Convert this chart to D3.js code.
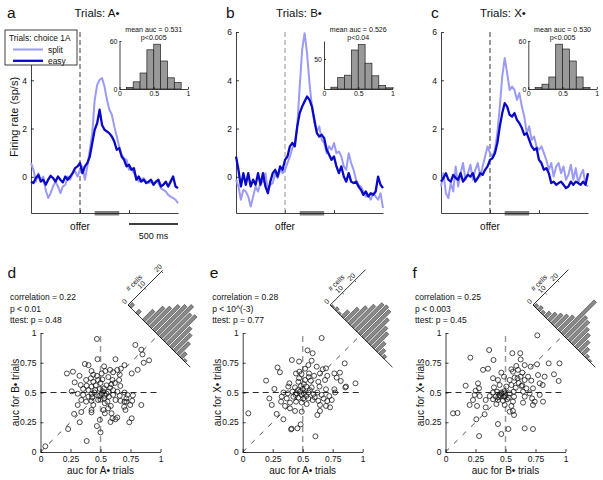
<!DOCTYPE html>
<html><head><meta charset="utf-8">
<script src="https://cdn.jsdelivr.net/npm/d3@7"></script>
<style>
body{margin:0;background:#fff}
svg{display:block}
text{font-family:"Liberation Sans",Arial,Helvetica,sans-serif;fill:#111}
</style></head>
<body><svg id="c" width="603" height="480"></svg>
<script>
// ---------------- DATA ----------------
const times = [-500,-475,-450,-425,-400,-375,-350,-325,-300,-275,-250,-225,-200,-175,-150,-125,-100,-75,-50,-25,0,25,50,75,100,125,150,175,200,225,250,275,300,325,350,375,400,425,450,475,500,525,550,575,600,625,650,675,700,725,750,775,800,825,850,875,900,925,950,975,1000];
const easyA = [-0.2,-0.26,-0.05,0.08,-0.2,-0.12,-0.33,-0.12,0.04,-0.05,-0.2,0.01,-0.12,-0.23,0.01,-0.12,0.01,0.15,0.36,0.43,0.57,0.15,0.43,0.57,0.84,1.4,1.95,2.22,2.78,2.15,1.95,1.88,1.8,1.67,1.46,1.12,1.19,0.84,0.7,0.43,0.5,0.29,0.36,-0.12,0.01,-0.2,-0.12,-0.26,-0.2,-0.12,-0.33,-0.2,-0.12,-0.4,-0.33,-0.2,-0.4,-0.2,0.01,-0.4,-0.47];
const splitA = [0.57,0.29,-0.2,0.15,-0.12,0.01,-0.54,-0.88,-0.68,-0.4,-0.2,-0.4,-0.68,-0.4,-0.33,0.01,-0.12,0.15,0.22,0.01,0.29,0.43,-0.12,0.43,1.12,1.81,3.19,3.81,4.02,4.09,3.74,3.19,2.78,2.57,2.09,1.67,1.26,0.91,0.77,0.7,0.29,0.36,0.15,0.01,-0.2,-0.12,-0.05,-0.2,-0.26,-0.2,-0.33,-0.2,-0.26,-0.47,-0.54,-0.61,-0.75,-0.82,-0.88,-0.95,-1.09];
const easyB = [0.84,0.29,-0.4,0.15,-0.33,0.15,-0.4,-0.12,-0.33,0.15,-0.33,0.15,-0.4,-0.68,-0.2,0.15,0.29,0.01,0.43,0.29,0.7,0.84,1.26,1.4,1.26,2.09,2.64,2.91,3.12,3.33,3.19,2.91,2.36,1.81,1.67,1.74,1.6,1.12,0.91,0.7,0.84,0.43,0.15,0.43,0.01,-0.2,0.15,-0.2,-0.26,-0.2,-0.4,-0.54,-0.75,-0.61,-0.82,-0.68,-0.75,-0.61,0.01,-0.33,-0.47];
const splitB = [-0.12,-0.4,-0.95,-0.54,-0.61,-0.82,-1.23,-0.82,-0.4,-0.61,-0.26,-0.2,0.15,-0.54,-0.33,-0.26,0.15,-0.05,0.29,0.15,0.29,0.57,0.84,1.19,1.4,2.09,3.74,5.26,5.95,5.12,3.88,2.91,2.22,1.88,2.09,1.53,1.4,0.98,1.26,1.12,1.4,0.98,1.05,0.84,0.43,0.29,0.98,0.57,0.29,-0.12,-0.33,-0.4,-0.61,-0.82,-0.75,-0.95,-0.68,-0.82,-0.95,-0.68,-1.3];
const easyC = [-0.2,-0.05,0.15,-0.12,-0.2,0.08,-0.05,-0.12,0.15,-0.2,-0.05,0.08,0.01,0.15,-0.2,-0.05,0.15,0.08,0.29,0.43,0.7,0.77,0.98,1.4,2.09,2.64,3.05,2.91,2.57,2.5,2.64,2.36,2.22,2.02,1.74,1.81,1.53,1.26,1.12,1.19,0.7,0.57,0.29,0.36,0.15,-0.26,-0.2,-0.33,-0.26,-0.2,-0.33,-0.47,-0.4,-0.2,-0.33,-0.2,-0.26,-0.33,-0.2,-0.33,0.15];
const splitC = [-0.4,0.15,-0.68,-0.88,-0.26,-0.61,0.43,-0.4,0.15,0.57,-0.12,0.15,0.5,-0.12,0.29,0.57,0.01,0.43,0.84,1.26,0.98,0.84,1.12,1.81,2.91,4.16,4.92,4.3,3.6,3.74,3.6,3.19,3.47,2.91,2.5,1.81,2.09,1.53,1.67,1.26,1.12,1.26,0.98,0.7,0.29,0.57,0.01,0.43,0.57,0.15,0.43,-0.12,0.08,0.5,-0.12,0.36,-0.26,0.08,0.29,-0.33,-0.4];
const yTicksRate = [0,2,4,6];
const yTicksRateA = [0,2,4];   // "6" is hidden behind the legend in panel a
const xTicksTime = [0,500];
const windowMs = [150,400];

// inset auc histograms (bin centres, counts)
const aucBins = [0.05,0.15,0.25,0.35,0.45,0.55,0.65,0.75,0.85,0.95];
const histA = [0,2,9,20,49,56,35,14,8,0];
const histB = [0,3,19,23,65,74,43,22,6,2];
const histC = [0,2,6,15,56,50,35,15,2,0];

// scatter d : auc A (x) vs auc B (y)
const dX = [0.47,0.79,0.84,0.85,0.905,0.86,0.475,0.625,0.37,0.40,0.53,0.70,0.67,0.81,0.76,0.27,0.22,0.325,0.425,0.44,0.47,0.51,0.54,0.58,0.605,0.64,0.66,0.565,0.60,0.62,0.59,0.655,0.665,0.38,0.42,0.44,0.48,0.515,0.285,0.335,0.385,0.425,0.355,0.40,0.455,0.495,0.53,0.565,0.605,0.64,0.26,0.31,0.355,0.40,0.425,0.47,0.51,0.536,0.57,0.605,0.66,0.70,0.725,0.77,0.716,0.34,0.38,0.425,0.48,0.53,0.558,0.625,0.667,0.716,0.764,0.84,0.31,0.44,0.536,0.586,0.70,0.697,0.708,0.747,0.525,0.564,0.425,0.536,0.592,0.64,0.625,0.60,0.76,0.74,0.28,0.34,0.425,0.327,0.495,0.583,0.47,0.23,0.50,0.385,0.04,0.45,0.49,0.52,0.46,0.50,0.55,0.58,0.43,0.50,0.55];
const dY = [0.95,0.90,0.86,0.82,0.77,0.75,0.78,0.78,0.74,0.73,0.72,0.73,0.70,0.69,0.66,0.675,0.66,0.64,0.68,0.65,0.64,0.66,0.68,0.69,0.67,0.69,0.65,0.63,0.605,0.58,0.57,0.605,0.555,0.605,0.62,0.59,0.605,0.61,0.585,0.563,0.557,0.55,0.53,0.52,0.52,0.53,0.535,0.507,0.52,0.507,0.51,0.49,0.48,0.465,0.487,0.48,0.49,0.473,0.465,0.48,0.473,0.50,0.48,0.476,0.45,0.437,0.423,0.43,0.437,0.45,0.423,0.437,0.43,0.423,0.43,0.395,0.395,0.395,0.41,0.387,0.423,0.38,0.353,0.395,0.353,0.367,0.353,0.325,0.325,0.29,0.275,0.283,0.283,0.25,0.32,0.336,0.333,0.25,0.27,0.252,0.218,0.193,0.165,0.092,0.048,0.50,0.47,0.51,0.56,0.58,0.56,0.54,0.46,0.44,0.49];

// scatter e : auc A (x) vs auc X (y)
const eX = [0.658,0.54,0.583,0.41,0.47,0.575,0.29,0.31,0.195,0.264,0.85,0.694,0.667,0.617,0.547,0.52,0.472,0.444,0.49,0.553,0.595,0.644,0.705,0.764,0.81,0.783,0.817,0.861,0.855,0.94,0.389,0.464,0.52,0.567,0.63,0.686,0.38,0.436,0.486,0.53,0.575,0.64,0.694,0.764,0.77,0.34,0.375,0.414,0.45,0.478,0.51,0.547,0.59,0.622,0.658,0.722,0.325,0.367,0.422,0.464,0.506,0.547,0.583,0.63,0.675,0.705,0.742,0.32,0.242,0.222,0.394,0.444,0.492,0.533,0.644,0.694,0.728,0.353,0.394,0.436,0.644,0.622,0.283,0.339,0.047,0.408,0.456,0.483,0.606,0.403,0.492,0.46,0.50,0.53,0.49,0.44,0.56,0.51,0.47,0.55,0.60];
const eY = [0.958,0.854,0.83,0.773,0.76,0.767,0.71,0.67,0.60,0.53,0.745,0.703,0.695,0.717,0.73,0.70,0.675,0.66,0.655,0.66,0.64,0.66,0.64,0.66,0.667,0.625,0.597,0.55,0.543,0.577,0.577,0.59,0.605,0.60,0.59,0.605,0.55,0.543,0.555,0.55,0.543,0.55,0.527,0.527,0.50,0.50,0.493,0.507,0.493,0.507,0.493,0.50,0.487,0.50,0.48,0.47,0.465,0.45,0.465,0.457,0.45,0.45,0.437,0.43,0.45,0.428,0.437,0.423,0.395,0.45,0.415,0.423,0.415,0.403,0.395,0.387,0.375,0.387,0.367,0.345,0.345,0.311,0.32,0.275,0.325,0.196,0.199,0.232,0.132,0.19,0.339,0.52,0.53,0.47,0.48,0.48,0.52,0.57,0.62,0.63,0.46];

// scatter f : auc B (x) vs auc X (y)
const fX = [0.765,0.364,0.557,0.623,0.207,0.40,0.626,0.59,0.66,0.549,0.313,0.354,0.465,0.562,0.604,0.64,0.71,0.763,0.86,0.95,0.904,0.943,0.771,0.826,0.396,0.437,0.488,0.535,0.576,0.626,0.66,0.688,0.715,0.785,0.81,0.168,0.271,0.279,0.251,0.404,0.451,0.507,0.549,0.585,0.632,0.674,0.729,0.396,0.429,0.465,0.493,0.535,0.568,0.646,0.701,0.785,0.243,0.285,0.368,0.418,0.457,0.488,0.526,0.571,0.66,0.722,0.335,0.396,0.437,0.479,0.513,0.562,0.743,0.229,0.424,0.493,0.646,0.813,0.729,0.201,0.263,0.335,0.549,0.562,0.535,0.571,0.063,0.10,0.257,0.326,0.437,0.66,0.729,0.524,0.465,0.28,0.45,0.47,0.50,0.44,0.49,0.61,0.64,0.60];
const fY = [0.98,0.857,0.83,0.83,0.793,0.773,0.778,0.723,0.73,0.695,0.69,0.70,0.667,0.675,0.69,0.667,0.717,0.737,0.745,0.745,0.653,0.597,0.647,0.633,0.62,0.605,0.633,0.605,0.625,0.633,0.605,0.633,0.60,0.577,0.563,0.557,0.577,0.535,0.515,0.543,0.563,0.55,0.563,0.54,0.555,0.535,0.535,0.50,0.507,0.50,0.493,0.493,0.507,0.507,0.493,0.48,0.48,0.47,0.47,0.465,0.47,0.465,0.457,0.465,0.465,0.45,0.437,0.443,0.437,0.431,0.443,0.423,0.423,0.437,0.403,0.395,0.415,0.423,0.395,0.395,0.387,0.375,0.387,0.345,0.339,0.311,0.325,0.328,0.275,0.317,0.235,0.199,0.193,0.193,0.151,0.134,0.48,0.49,0.47,0.46,0.51,0.58,0.56,0.62];

const aucTicks = [0,0.25,0.5,0.75,1];

// rotated difference histograms (bin centres of y - x, counts)
const diffBins = [0.4,0.35,0.3,0.25,0.2,0.15,0.1,0.05,0,-0.05,-0.1,-0.15,-0.2,-0.25,-0.3,-0.35,-0.4];
const diffD = [2,0,2,0,6,10,12,15,17,19,16,17,12,10,7,3,1];
const diffE = [1,2,1,5,10,14,18,22,23,22,18,14,12,7,4,2,0];
const diffF = [2,3,2,4,6,8,10,12,27,17,16,13,11,8,5,2,1];
const cellTicks = [0,10,20];

// ---------------- DRAW ----------------
const svg = d3.select("#c");
const EASY = "#0a0ac6", SPLIT = "#9b9bf6";

const topPanels = [
  {letter:"a", letterX:7, title:"Trials: A\u2022", titleX:97, left:31, easy:easyA, split:splitA, yTicks:yTicksRateA,
   hist:histA, hMax:60, hTicks:[0,60], mean:"mean auc = 0.531", p:"p<0.005", insetLeft:119.5, offerCol:"#222"},
  {letter:"b", letterX:226, title:"Trials: B\u2022", titleX:299, left:236, easy:easyB, split:splitB, yTicks:yTicksRate,
   hist:histB, hMax:80, hTicks:[50], mean:"mean auc = 0.526", p:"p<0.04", insetLeft:324, offerCol:"#888"},
  {letter:"c", letterX:431, title:"Trials: X\u2022", titleX:503, left:441, easy:easyC, split:splitC, yTicks:yTicksRate,
   hist:histC, hMax:60, hTicks:[0,60], mean:"mean auc = 0.530", p:"p<0.005", insetLeft:528.3, offerCol:"#222"}
];

function styleAxis(g, fs){
  g.selectAll("path.domain").attr("stroke","#111").attr("stroke-width",0.8);
  g.selectAll(".tick line").attr("stroke","#111").attr("stroke-width",0.8);
  g.selectAll(".tick text").attr("font-size",fs).attr("fill","#222")
    .attr("font-family",'"Liberation Sans",Arial,sans-serif');
}

topPanels.forEach((P,pi)=>{
  const g = svg.append("g");
  const x = d3.scaleLinear().domain([-500,1000]).range([P.left, P.left+147]);
  const y = d3.scaleLinear().domain([-1.5,6]).range([213,32]);

  // window bar
  g.append("rect").attr("x",x(windowMs[0])).attr("y",211).attr("width",x(windowMs[1])-x(windowMs[0]))
    .attr("height",4.5).attr("fill","#7f7f7f");

  const ya = g.append("g").attr("transform",`translate(${P.left},0)`)
    .call(d3.axisLeft(y).tickValues(P.yTicks).tickSizeInner(-3).tickSizeOuter(0).tickPadding(4).tickFormat(d3.format("d")));
  styleAxis(ya, 8.5);
  const xa = g.append("g").attr("transform",`translate(0,213)`)
    .call(d3.axisBottom(x).tickValues(xTicksTime).tickSizeInner(-3).tickSizeOuter(0).tickFormat(""));
  styleAxis(xa, 8);

  // offer line
  g.append("line").attr("x1",x(0)).attr("x2",x(0)).attr("y1",y(6)).attr("y2",213)
    .attr("stroke",P.offerCol).attr("stroke-width",0.9).attr("stroke-dasharray","5,3");

  const line = d3.line().x((d,i)=>x(times[i])).y(d=>y(d));
  g.append("path").datum(P.split).attr("d",line).attr("fill","none").attr("stroke",SPLIT)
    .attr("stroke-width",2).attr("stroke-linejoin","round");
  g.append("path").datum(P.easy).attr("d",line).attr("fill","none").attr("stroke",EASY)
    .attr("stroke-width",2.3).attr("stroke-linejoin","round");

  g.append("text").attr("x",x(0)).attr("y",230).attr("text-anchor","middle").attr("font-size",10).text("offer");
  g.append("text").attr("x",P.letterX).attr("y",17.5).attr("font-size",15.5).text(P.letter);
  g.append("text").attr("x",P.titleX).attr("y",17.3).attr("text-anchor","middle").attr("font-size",11.5).text(P.title);

  // inset histogram
  const ix = d3.scaleLinear().domain([0,1]).range([P.insetLeft, P.insetLeft+68.5]);
  const iy = d3.scaleLinear().domain([0,P.hMax]).range([89,41]);
  g.selectAll(".hb").data(P.hist.map((c,i)=>({c,b:aucBins[i]})).filter(d=>d.c>0)).enter()
    .append("rect").attr("x",d=>ix(d.b-0.05)).attr("width",d=>ix(d.b+0.05)-ix(d.b-0.05))
    .attr("y",d=>iy(d.c)).attr("height",d=>iy(0)-iy(d.c))
    .attr("fill","#999").attr("stroke","#222").attr("stroke-width",0.7);
  const iya = g.append("g").attr("transform",`translate(${ix(0)},0)`)
    .call(d3.axisLeft(iy).tickValues(P.hTicks).tickSizeInner(-2).tickSizeOuter(0).tickPadding(2).tickFormat(d3.format("d")));
  styleAxis(iya, 7);
  const ixa = g.append("g").attr("transform",`translate(0,89)`)
    .call(d3.axisBottom(ix).tickValues([0,0.5,1]).tickSizeInner(-2).tickSizeOuter(0).tickPadding(2).tickFormat(d=>String(d)));
  styleAxis(ixa, 7);
  const icx = ix(0.5);
  g.append("text").attr("x",icx).attr("y",31.8).attr("text-anchor","middle").attr("font-size",7.1).text(P.mean);
  g.append("text").attr("x",icx).attr("y",39.8).attr("text-anchor","middle").attr("font-size",7.1).text(P.p);

  if(pi===0){
    g.append("text").attr("transform","translate(17.5,117) rotate(-90)").attr("text-anchor","middle")
      .attr("font-size",11).text("Firing rate (sp/s)");
    // scale bar 500 ms
    g.append("line").attr("x1",x(500)).attr("x2",x(1000)).attr("y1",224).attr("y2",224)
      .attr("stroke","#000").attr("stroke-width",1.4);
    g.append("text").attr("x",x(750)).attr("y",238.5).attr("text-anchor","middle").attr("font-size",9).text("500 ms");
    // legend
    const L = g.append("g");
    L.append("rect").attr("x",5).attr("y",30).attr("width",72).attr("height",35)
      .attr("fill","#fff").attr("stroke","#111").attr("stroke-width",0.8);
    L.append("text").attr("x",9).attr("y",41).attr("font-size",8.4).text("Trials: choice 1A");
    L.append("line").attr("x1",13).attr("x2",43).attr("y1",49.5).attr("y2",49.5).attr("stroke",SPLIT).attr("stroke-width",2);
    L.append("text").attr("x",48).attr("y",52.5).attr("font-size",8.4).text("split");
    L.append("line").attr("x1",13).attr("x2",43).attr("y1",60.8).attr("y2",60.8).attr("stroke",EASY).attr("stroke-width",2.3);
    L.append("text").attr("x",48).attr("y",63.8).attr("font-size",8.4).text("easy");
  }
});

// ---- scatter panels ----
const botPanels = [
  {letter:"d", left:40.5, xs:dX, ys:dY, diff:diffD, cScale:2.37, axLen:49,
   stats:["correlation = 0.22","p < 0.01","ttest: p = 0.48"], xl:"auc for A\u2022 trials", yl:"auc for B\u2022 trials"},
  {letter:"e", left:242.7, xs:eX, ys:eY, diff:diffE, cScale:1.73, axLen:50,
   stats:["correlation = 0.28","p < 10^(-3)","ttest: p = 0.77"], xl:"auc for A\u2022 trials", yl:"auc for X\u2022 trials"},
  {letter:"f", left:445.5, xs:fX, ys:fY, diff:diffF, cScale:1.73, axLen:50,
   stats:["correlation = 0.25","p < 0.003","ttest: p = 0.45"], xl:"auc for B\u2022 trials", yl:"auc for X\u2022 trials"}
];
const tfmt = d => String(d);

botPanels.forEach(P=>{
  const g = svg.append("g");
  const x = d3.scaleLinear().domain([0,1]).range([P.left, P.left+120]);
  const y = d3.scaleLinear().domain([0,1]).range([452,333]);

  // reference lines
  g.append("line").attr("x1",x(0)).attr("x2",x(1)).attr("y1",y(0)).attr("y2",y(1))
    .attr("stroke","#222").attr("stroke-width",0.8).attr("stroke-dasharray","5,7");
  g.append("line").attr("x1",x(0)).attr("x2",x(1)).attr("y1",y(0.5)).attr("y2",y(0.5))
    .attr("stroke","#111").attr("stroke-width",0.9).attr("stroke-dasharray","6,4");
  g.append("line").attr("x1",x(0.5)).attr("x2",x(0.5)).attr("y1",y(0)).attr("y2",y(1))
    .attr("stroke","#999").attr("stroke-width",1.5).attr("stroke-dasharray","6,4");

  const ya = g.append("g").attr("transform",`translate(${P.left},0)`)
    .call(d3.axisLeft(y).tickValues(aucTicks).tickSizeInner(-3).tickSizeOuter(0).tickPadding(4).tickFormat(tfmt));
  styleAxis(ya, 8.5);
  const xa = g.append("g").attr("transform",`translate(0,452)`)
    .call(d3.axisBottom(x).tickValues(aucTicks).tickSizeInner(-3).tickSizeOuter(0).tickPadding(4).tickFormat(tfmt));
  styleAxis(xa, 8.5);

  g.selectAll(".pt").data(P.xs.map((v,i)=>[v,P.ys[i]])).enter().append("circle")
    .attr("cx",d=>x(d[0])).attr("cy",d=>y(d[1])).attr("r",2.5)
    .attr("fill","none").attr("stroke","#111").attr("stroke-width",0.75);

  g.append("text").attr("x",P.left-33).attr("y",278).attr("font-size",15.5).text(P.letter);
  P.stats.forEach((s,i)=>g.append("text").attr("x",P.left-30.5).attr("y",300+i*11.5).attr("font-size",8.5).text(s));
  g.append("text").attr("x",x(0.5)).attr("y",473.5).attr("text-anchor","middle").attr("font-size",10).text(P.xl);
  g.append("text").attr("transform",`translate(${P.left-21.5},${y(0.5)}) rotate(-90)`).attr("text-anchor","middle")
    .attr("font-size",10).text(P.yl);

  // rotated histogram of differences
  const h = g.append("g").attr("transform",`translate(${P.left+87.5},305) rotate(45)`);
  const hs = d3.scaleLinear().domain([0.43,-0.487]).range([0,88]);
  const hc = d3.scaleLinear().domain([0,1]).range([0,-P.cScale]);
  h.selectAll(".db").data(P.diff.map((c,i)=>({c,b:diffBins[i]})).filter(d=>d.c>0)).enter()
    .append("rect").attr("x",d=>hs(d.b)-1.7).attr("width",3.4)
    .attr("y",d=>hc(d.c)).attr("height",d=>-hc(d.c))
    .attr("fill","#8a8a8a").attr("stroke","#222").attr("stroke-width",0.5);
  h.append("line").attr("x1",0).attr("x2",88).attr("y1",0).attr("y2",0).attr("stroke","#111").attr("stroke-width",0.8);
  h.append("line").attr("x1",0).attr("x2",0).attr("y1",0).attr("y2",-P.axLen).attr("stroke","#111").attr("stroke-width",0.8);
  cellTicks.forEach(v=>{
    h.append("line").attr("x1",0).attr("x2",2).attr("y1",hc(v)).attr("y2",hc(v)).attr("stroke","#111").attr("stroke-width",0.7);
    h.append("text").attr("transform",`translate(-2.5,${hc(v)}) rotate(-90)`).attr("text-anchor","middle")
      .attr("font-size",7).text(v);
  });
  h.append("text").attr("transform",`translate(-9,${-20}) rotate(-90)`).attr("text-anchor","middle")
    .attr("font-size",7).text("# cells");
});
</script>
</body></html>
